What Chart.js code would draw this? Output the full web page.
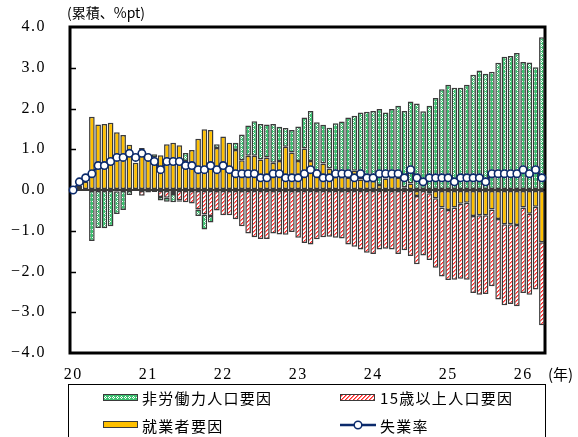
<!DOCTYPE html>
<html><head><meta charset="utf-8">
<script src="https://cdn.jsdelivr.net/npm/chart.js@4/dist/chart.umd.min.js"></script>
<style>
html,body{margin:0;padding:0;background:#fff;}
#wrap{position:relative;width:578px;height:437px;overflow:hidden;}
canvas{position:absolute;left:0;top:0;}
.t{position:absolute;font-family:'Noto Sans CJK JP',sans-serif;color:#000;white-space:nowrap;line-height:1;}
</style></head><body>
<div id="wrap">
<canvas id="c" width="578" height="437"></canvas>
<div class="t" style="left:67px;top:5px;font-size:14px;">(累積、%pt)</div>
<div class="t" style="left:548px;top:366px;font-size:15px;">(年)</div>
<div class="t" style="left:142px;top:390px;font-size:15px;letter-spacing:1.3px;">非労働力人口要因</div>
<div class="t" style="left:380px;top:390px;font-size:15px;letter-spacing:1.3px;">15歳以上人口要因</div>
<div class="t" style="left:142px;top:418px;font-size:15px;letter-spacing:1.3px;">就業者要因</div>
<div class="t" style="left:380px;top:418px;font-size:15px;letter-spacing:1.3px;">失業率</div>
</div>
<script>
// ---- data (cumulative change since Jan 2020, %pt) ----
const yearLabels = ['20','21','22','23','24','25','26'];
const months = [];
for (let y = 2020; y <= 2026; y++) for (let m = 1; m <= 12; m++) months.push(y + '-' + (m < 10 ? '0' : '') + m);
const categories = months.slice(0, 76);

// 就業者要因
const employedFactor = [
 0, 0.1, 0.2, 1.8, 1.61, 1.62, 1.65, 1.42, 1.35, 1.11,
 0.67, 1.03, 0.89, 0.8, 0.85, 1.12, 1.16, 1.1, 0.71, 0.98,
 1.26, 1.49, 1.47, 1.03, 1.31, 1.16, 0.98, 0.73, 0.84, 0.84,
 0.75, 0.8, 0.67, 0.71, 1.06, 0.92, 0.71, 1.02, 0.71, 0.47,
 0.65, 0.53, 0.32, 0.32, 0.3, 0.47, 0.26, 0.22, 0.22, 0.12,
 0.28, 0.32, 0.3, 0.07, 0.16, -0.15, 0, -0.08, -0.2, -0.43,
 -0.49, -0.43, -0.34, -0.31, -0.64, -0.62, -0.62, -0.48, -0.71, -0.84,
 -0.84, -0.86, -0.43, -0.58, -0.41, -1.28
];
// 15歳以上人口要因
const pop15Factor = [
 0, 0, 0, 0, 0, 0, 0, -0.03, 0, 0,
 0, -0.14, -0.06, -0.05, -0.17, -0.19, -0.1, -0.25, -0.3, -0.33,
 -0.48, -0.6, -0.64, -0.5, -0.62, -0.62, -0.72, -0.89, -1.07, -1.16,
 -1.2, -1.2, -1.07, -1.09, -1.1, -1.03, -1.17, -1.3, -1.34, -1.21,
 -1.16, -1.15, -1.17, -1.19, -1.34, -1.39, -1.46, -1.54, -1.57, -1.46,
 -1.44, -1.46, -1.57, -1.48, -1.62, -1.67, -1.61, -1.64, -1.71, -1.69,
 -1.72, -1.77, -1.84, -1.89, -1.89, -1.95, -1.93, -1.88, -1.98, -1.99,
 -1.96, -1.99, -2.1, -1.99, -2.03, -2.04
];
// 非労働力人口要因
const notInLaborFactor = [
 0, 0, 0, -1.25, -0.93, -0.94, -0.89, -0.56, -0.49, -0.12,
 0, 0, 0, 0.08, -0.09, -0.1, -0.2, -0.04, 0.2, 0,
 -0.16, -0.37, -0.16, 0.09, 0, 0, 0.18, 0.63, 0.74, 0.85,
 0.87, 0.81, 0.95, 0.84, 0.46, 0.55, 0.85, 0.76, 1.23, 1.19,
 0.95, 1.0, 1.32, 1.36, 1.48, 1.35, 1.64, 1.7, 1.72, 1.87,
 1.62, 1.67, 1.77, 1.87, 2.01, 2.12, 1.93, 2.07, 2.26, 2.47,
 2.58, 2.51, 2.51, 2.58, 2.83, 2.93, 2.85, 2.9, 3.12, 3.27,
 3.29, 3.36, 3.14, 3.13, 3.01, 3.75
];
// 失業率
const unemploymentRate = [
 0, 0.2, 0.3, 0.4, 0.6, 0.6, 0.7, 0.8, 0.8, 0.9,
 0.8, 0.9, 0.8, 0.7, 0.5, 0.7, 0.7, 0.7, 0.6, 0.6,
 0.5, 0.5, 0.6, 0.5, 0.6, 0.5, 0.4, 0.4, 0.4, 0.4,
 0.3, 0.3, 0.4, 0.4, 0.3, 0.3, 0.3, 0.4, 0.5, 0.4,
 0.3, 0.3, 0.4, 0.4, 0.4, 0.3, 0.4, 0.3, 0.3, 0.4,
 0.4, 0.4, 0.4, 0.3, 0.5, 0.3, 0.2, 0.3, 0.3, 0.3,
 0.3, 0.2, 0.3, 0.3, 0.3, 0.3, 0.2, 0.4, 0.4, 0.4,
 0.4, 0.4, 0.5, 0.4, 0.5, 0.3
];
const yMin = -4, yMax = 4, yStep = 1;

// ---- styles ----
const NAVY = '#0b2a6b', YELLOW = '#ffc000', EDGE = '#3a3a3a';
function makeGreen() {
  const c = document.createElement('canvas'); c.width = 4; c.height = 4;
  const x = c.getContext('2d');
  x.fillStyle = '#3cc070'; x.fillRect(0, 0, 4, 4);
  x.fillStyle = '#ffffff';
  [[1,0],[0,1],[2,1],[1,2]].forEach(p => x.fillRect(p[0], p[1], 1, 1));
  return x.createPattern(c, 'repeat');
}
function makeRed() {
  const c = document.createElement('canvas'); c.width = 4; c.height = 4;
  const x = c.getContext('2d');
  x.fillStyle = '#ffffff'; x.fillRect(0, 0, 4, 4);
  for (let i = 0; i < 4; i++) for (let j = 0; j < 4; j++) {
    const k = (i + j) % 4;
    if (k === 0) { x.fillStyle = '#ff2424'; x.fillRect(i, j, 1, 1); }
    else if (k === 1) { x.fillStyle = '#ff8080'; x.fillRect(i, j, 1, 1); }
  }
  return x.createPattern(c, 'repeat');
}
const ctx = document.getElementById('c').getContext('2d');
const GREEN = makeGreen(), RED = makeRed();

const framePlugin = {
  id: 'frame',
  beforeDraw(chart) { chart.ctx.letterSpacing = '1.5px'; },
  beforeDatasetsDraw(chart) {
    const { ctx, chartArea: a, scales } = chart;
    ctx.save();
    ctx.strokeStyle = '#000'; ctx.lineWidth = 3;
    ctx.strokeRect(a.left, a.top, a.right - a.left, a.bottom - a.top);
    ctx.lineWidth = 1.5;
    for (let v = yMin + yStep; v < yMax; v += yStep) {
      const y = Math.round(scales.y.getPixelForValue(v)) + 0.5;
      ctx.beginPath(); ctx.moveTo(a.left, y); ctx.lineTo(a.left + 6, y); ctx.stroke();
    }
    ctx.restore();
  },
  afterDraw(chart) {
    const c = chart.ctx;
    c.save();
    c.strokeStyle = '#000'; c.lineWidth = 1;
    c.strokeRect(68.5, 384.5, 477, 60);
    c.lineWidth = 1; c.strokeStyle = EDGE;
    c.fillStyle = GREEN; c.fillRect(103, 394, 35, 7); c.strokeRect(103.5, 394.5, 34, 6);
    c.fillStyle = RED; c.fillRect(340, 394, 35, 7); c.strokeRect(340.5, 394.5, 34, 6);
    c.fillStyle = YELLOW; c.fillRect(103, 421, 35, 7); c.strokeRect(103.5, 421.5, 34, 6);
    c.strokeStyle = NAVY; c.lineWidth = 2.5;
    c.beginPath(); c.moveTo(340, 425); c.lineTo(376, 425); c.stroke();
    c.lineWidth = 1.5; c.fillStyle = '#fff';
    c.beginPath(); c.arc(358, 425, 3.8, 0, Math.PI * 2); c.fill(); c.stroke();
    c.restore();
  }
};

const tickFont = { family: "'Liberation Serif', serif", size: 16 };

new Chart(ctx, {
  data: {
    labels: categories,
    datasets: [
      { type: 'line', label: '失業率', data: unemploymentRate, borderColor: NAVY, borderWidth: 2,
        pointRadius: 3.7, pointBackgroundColor: '#fff', pointBorderColor: NAVY, pointBorderWidth: 1.6,
        tension: 0, order: 0, stack: 'rate' },
      { type: 'bar', label: '就業者要因', data: employedFactor, backgroundColor: YELLOW, borderColor: EDGE,
        borderWidth: 1.5, borderSkipped: false, order: 1, stack: 'f' },
      { type: 'bar', label: '15歳以上人口要因', data: pop15Factor, backgroundColor: RED, borderColor: EDGE,
        borderWidth: 1.5, borderSkipped: false, order: 1, stack: 'f' },
      { type: 'bar', label: '非労働力人口要因', data: notInLaborFactor, backgroundColor: GREEN, borderColor: EDGE,
        borderWidth: 1.5, borderSkipped: false, order: 1, stack: 'f' }
    ]
  },
  options: {
    responsive: false, animation: false,
    layout: { padding: { left: 0, right: 33, top: 27, bottom: 54 } },
    datasets: { bar: { categoryPercentage: 1, barPercentage: 0.9 } },
    plugins: { legend: { display: false }, tooltip: { enabled: false } },
    scales: {
      x: {
        stacked: true, offset: true,
        grid: { display: false, drawTicks: false }, border: { display: false },
        ticks: { autoSkip: false, maxRotation: 0, minRotation: 0, padding: 12, font: tickFont, color: '#000',
          callback: (v, i) => (i % 12 === 0 ? yearLabels[i / 12] : '') },
        afterFit: s => { s.height = 30; }
      },
      y: {
        stacked: true, min: yMin, max: yMax,
        grid: { drawTicks: false, color: c => (c.tick && c.tick.value === 0 ? EDGE : 'rgba(0,0,0,0)'),
          lineWidth: c => (c.tick && c.tick.value === 0 ? 2 : 0) },
        border: { display: false },
        ticks: { stepSize: yStep, padding: 24, font: tickFont, color: '#000',
          callback: v => (v < 0 ? '−' : '') + Math.abs(v).toFixed(1) },
        afterFit: s => { s.width = 70; s.paddingTop = 8; s.paddingBottom = 8; }
      }
    }
  },
  plugins: [framePlugin]
});
</script>
</body></html>
